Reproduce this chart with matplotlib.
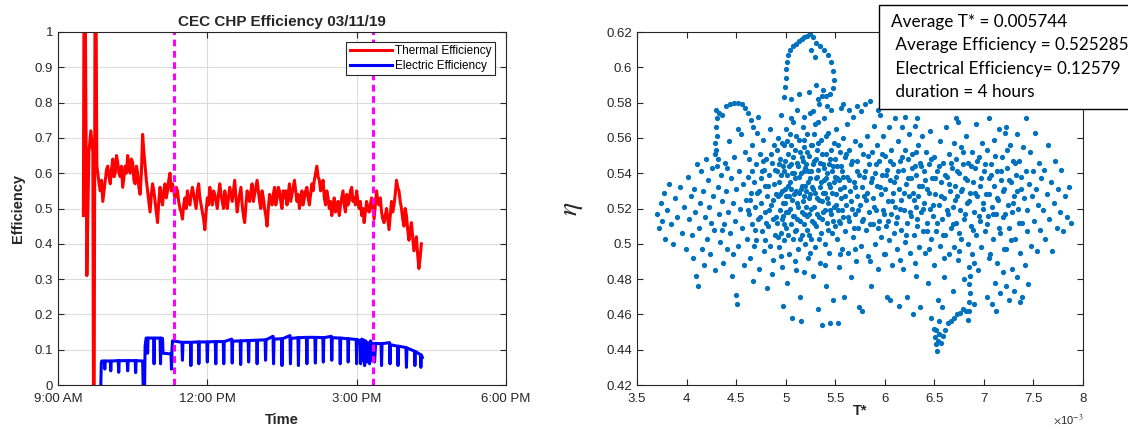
import numpy as np
import matplotlib
matplotlib.use('Agg')
import matplotlib.pyplot as plt
from matplotlib.patches import Rectangle

plt.rcParams['font.family'] = ['Liberation Sans', 'DejaVu Sans']
plt.rcParams['mathtext.fontset'] = 'stix'

#Start-up transient of the thermal efficiency (time in decimal hours).
startup_time = [9.51, 9.53, 9.58, 9.62, 9.66, 9.70, 9.72, 9.75, 9.78]
startup_eff = [0.48, 1.5, 0.31, 0.66, 0.72, 0.66, -0.5, 1.5, 0.62]

#Thermal efficiency, one reading every 1.5 minutes from 9:48.
thermal_t0 = 9.80
thermal_dt = 0.025
thermal_eff = [0.60, 0.57, 0.55, 0.58, 0.52, 0.55, 0.58, 0.61,
               0.62, 0.59, 0.57, 0.61, 0.64, 0.59, 0.60, 0.65, 0.63, 0.60, 0.59, 0.62,
               0.56, 0.59, 0.62, 0.60, 0.65, 0.62, 0.60, 0.64,
               0.63, 0.58, 0.57, 0.62, 0.60, 0.56, 0.54, 0.60, 0.71, 0.66, 0.62, 0.58,
               0.55, 0.52, 0.49, 0.54, 0.57, 0.55, 0.52, 0.49,
               0.46, 0.52, 0.56, 0.53, 0.51, 0.55, 0.57, 0.53, 0.55, 0.58, 0.60, 0.55,
               0.57, 0.55, 0.53, 0.56, 0.55, 0.52, 0.50, 0.49,
               0.47, 0.51, 0.53, 0.50, 0.55, 0.52, 0.51, 0.54, 0.56, 0.54, 0.52, 0.50,
               0.55, 0.57, 0.53, 0.51, 0.49, 0.47, 0.44, 0.49,
               0.53, 0.51, 0.56, 0.53, 0.51, 0.55, 0.54, 0.52, 0.50, 0.54, 0.57, 0.54,
               0.52, 0.50, 0.55, 0.53, 0.50, 0.53, 0.56, 0.54,
               0.52, 0.55, 0.58, 0.53, 0.49, 0.52, 0.54, 0.56, 0.51, 0.48, 0.46, 0.51,
               0.55, 0.53, 0.52, 0.55, 0.57, 0.52, 0.54, 0.56,
               0.58, 0.55, 0.52, 0.50, 0.55, 0.53, 0.50, 0.48, 0.45, 0.50, 0.54, 0.52,
               0.51, 0.54, 0.56, 0.51, 0.53, 0.56, 0.55, 0.52,
               0.50, 0.55, 0.53, 0.55, 0.51, 0.54, 0.57, 0.52, 0.54, 0.56, 0.58, 0.55,
               0.52, 0.54, 0.50, 0.52, 0.55, 0.51, 0.53, 0.55,
               0.56, 0.53, 0.51, 0.54, 0.57, 0.55, 0.58, 0.60, 0.62, 0.59, 0.58, 0.55,
               0.56, 0.58, 0.53, 0.51, 0.55, 0.53, 0.50, 0.52,
               0.48, 0.51, 0.53, 0.49, 0.50, 0.52, 0.48, 0.51, 0.53, 0.55, 0.51, 0.49,
               0.54, 0.51, 0.52, 0.55, 0.56, 0.52, 0.53, 0.51,
               0.55, 0.52, 0.50, 0.52, 0.48, 0.50, 0.46, 0.49, 0.52, 0.50, 0.49, 0.51,
               0.53, 0.50, 0.47, 0.51, 0.55, 0.52, 0.51, 0.53,
               0.49, 0.47, 0.46, 0.48, 0.50, 0.47, 0.44, 0.48, 0.52, 0.49, 0.51, 0.54,
               0.58, 0.56, 0.55, 0.52, 0.50, 0.47, 0.45, 0.50,
               0.48, 0.44, 0.41, 0.44, 0.46, 0.42, 0.38, 0.40, 0.42, 0.37, 0.33, 0.36,
               0.40]

#Electric efficiency (time, value) readings.
electric = [(9.86, 0.0), (9.87, 0.062), (9.88, 0.068), (9.93, 0.068), (9.94, 0.045), (9.95, 0.068),
            (10.05, 0.068), (10.06, 0.040), (10.07, 0.068), (10.21, 0.069), (10.22, 0.036), (10.23, 0.069),
            (10.39, 0.069), (10.40, 0.040), (10.41, 0.069), (10.55, 0.069), (10.56, 0.035), (10.57, 0.069),
            (10.70, 0.068), (10.71, 0.0), (10.74, 0.0), (10.75, 0.11), (10.77, 0.133),
            (10.79, 0.133), (10.80, 0.09), (10.81, 0.133), (10.92, 0.133), (10.93, 0.06), (10.94, 0.133),
            (11.05, 0.133), (11.06, 0.06), (11.07, 0.133), (11.10, 0.132), (11.11, 0.09), (11.27, 0.088),
            (11.28, 0.045), (11.29, 0.10), (11.30, 0.125),
            (11.49, 0.121), (11.50, 0.070), (11.51, 0.121),
            (11.66, 0.121), (11.67, 0.055), (11.68, 0.121),
            (11.82, 0.122), (11.83, 0.060), (11.84, 0.122),
            (11.99, 0.122), (12.00, 0.065), (12.01, 0.122),
            (12.16, 0.123), (12.17, 0.060), (12.18, 0.123),
            (12.32, 0.123), (12.33, 0.060), (12.34, 0.123),
            (12.49, 0.130), (12.50, 0.062), (12.51, 0.124),
            (12.66, 0.125), (12.67, 0.058), (12.68, 0.125),
            (12.82, 0.126), (12.83, 0.065), (12.84, 0.126),
            (12.99, 0.127), (13.00, 0.060), (13.01, 0.127),
            (13.16, 0.128), (13.17, 0.070), (13.18, 0.128),
            (13.32, 0.138), (13.33, 0.060), (13.34, 0.130),
            (13.49, 0.131), (13.50, 0.055), (13.51, 0.131),
            (13.66, 0.140), (13.67, 0.060), (13.68, 0.132),
            (13.82, 0.134), (13.83, 0.055), (13.84, 0.134),
            (13.99, 0.135), (14.00, 0.060), (14.01, 0.135),
            (14.16, 0.135), (14.17, 0.062), (14.18, 0.135),
            (14.32, 0.134), (14.33, 0.065), (14.34, 0.134),
            (14.49, 0.138), (14.50, 0.070), (14.51, 0.134),
            (14.66, 0.133), (14.67, 0.060), (14.68, 0.133),
            (14.82, 0.131), (14.83, 0.065), (14.84, 0.131),
            (14.99, 0.129), (15.00, 0.060), (15.01, 0.129),
            (15.07, 0.125), (15.08, 0.060), (15.10, 0.130), (15.12, 0.070), (15.14, 0.128),
            (15.16, 0.055), (15.18, 0.125), (15.21, 0.065), (15.23, 0.120), (15.26, 0.060),
            (15.28, 0.125), (15.31, 0.070), (15.33, 0.118), (15.36, 0.065), (15.38, 0.118),
            (15.49, 0.117), (15.50, 0.055), (15.51, 0.117),
            (15.66, 0.120), (15.67, 0.060), (15.68, 0.114),
            (15.82, 0.110), (15.83, 0.055), (15.84, 0.110),
            (15.99, 0.106), (16.00, 0.050), (16.01, 0.105),
            (16.16, 0.096), (16.17, 0.055), (16.18, 0.095),
            (16.28, 0.086), (16.29, 0.050), (16.30, 0.085), (16.32, 0.078)]

#Start and end of the 4 hour steady window.
window_marks = [11.33, 15.33]

time_ticks = [9, 12, 15, 18]
time_labels = ['9:00 AM', '12:00 PM', '3:00 PM', '6:00 PM']

#Scatter of (T* x 1e3, eta): outer cloud and loops.
scatter_pts = [
    (3.70, 0.517), (3.72, 0.509), (3.74, 0.523), (3.75, 0.513), (3.77, 0.529), (3.78, 0.503), (3.80, 0.519),
    (3.82, 0.534), (3.84, 0.511), (3.86, 0.500), (3.88, 0.526), (3.90, 0.515), (3.93, 0.532), (3.95, 0.506),
    (3.97, 0.521), (3.99, 0.497),
    (4.01, 0.538), (4.02, 0.514), (4.04, 0.527), (4.05, 0.505), (4.06, 0.492), (4.08, 0.531), (4.09, 0.518),
    (4.10, 0.482), (4.11, 0.545), (4.12, 0.476), (4.13, 0.509), (4.14, 0.523), (4.15, 0.541), (4.16, 0.497),
    (4.17, 0.530), (4.18, 0.488), (4.19, 0.515), (4.20, 0.548), (4.21, 0.503), (4.22, 0.536), (4.23, 0.521),
    (4.24, 0.494), (4.25, 0.512), (4.26, 0.543), (4.27, 0.527), (4.28, 0.508), (4.29, 0.551), (4.29, 0.485),
    (4.30, 0.576), (4.31, 0.571), (4.30, 0.566), (4.31, 0.561), (4.29, 0.557), (4.30, 0.553), (4.32, 0.548),
    (4.31, 0.544),
    (4.33, 0.574), (4.36, 0.573), (4.40, 0.578), (4.44, 0.579), (4.48, 0.580), (4.52, 0.580), (4.56, 0.579),
    (4.59, 0.577), (4.32, 0.532), (4.33, 0.517), (4.34, 0.501), (4.35, 0.539), (4.36, 0.524), (4.37, 0.489),
    (4.38, 0.511), (4.39, 0.546), (4.40, 0.530), (4.41, 0.497), (4.42, 0.518), (4.43, 0.558), (4.44, 0.506),
    (4.45, 0.537), (4.46, 0.482), (4.47, 0.523), (4.48, 0.549), (4.49, 0.513), (4.50, 0.471), (4.50, 0.531),
    (4.51, 0.466), (4.52, 0.499), (4.53, 0.541), (4.54, 0.520), (4.55, 0.562), (4.56, 0.509), (4.57, 0.534),
    (4.58, 0.488), (4.59, 0.552), (4.60, 0.525), (4.52, 0.565), (4.47, 0.494), (4.41, 0.543), (4.36, 0.508),
    (4.62, 0.574), (4.65, 0.570), (4.67, 0.566), (4.61, 0.503), (4.62, 0.538), (4.63, 0.517), (4.63, 0.548),
    (4.64, 0.492), (4.65, 0.529), (4.66, 0.511), (4.66, 0.556), (4.67, 0.479), (4.68, 0.535), (4.69, 0.521),
    (4.70, 0.545), (4.70, 0.502), (4.71, 0.563), (4.72, 0.514), (4.73, 0.530), (4.73, 0.486), (4.74, 0.551),
    (4.75, 0.523), (4.76, 0.507), (4.76, 0.541), (4.77, 0.559), (4.78, 0.496), (4.79, 0.533), (4.79, 0.518),
    (4.80, 0.548), (4.81, 0.475), (4.81, 0.527), (4.82, 0.510), (4.83, 0.539), (4.84, 0.565), (4.84, 0.499),
    (4.85, 0.522), (4.86, 0.546), (4.86, 0.483), (4.87, 0.514), (4.88, 0.534), (4.88, 0.556), (4.89, 0.505),
    (4.90, 0.528), (4.68, 0.499), (4.72, 0.572), (4.78, 0.542), (4.83, 0.519), (4.87, 0.491), (4.64, 0.525),
    (4.75, 0.537), (4.80, 0.512),
    (4.98, 0.583), (4.99, 0.589), (5.00, 0.594), (5.00, 0.599), (5.01, 0.603), (5.02, 0.607), (5.04, 0.610),
    (5.07, 0.612), (5.10, 0.613), (5.13, 0.615), (5.16, 0.616), (5.19, 0.617),
    (4.91, 0.541), (4.91, 0.512), (4.92, 0.527), (4.92, 0.560), (4.93, 0.498), (4.93, 0.535), (4.94, 0.519),
    (4.94, 0.548), (4.95, 0.506), (4.95, 0.573), (4.96, 0.530), (4.96, 0.487), (4.97, 0.544), (4.97, 0.516),
    (4.98, 0.556), (4.98, 0.502), (4.99, 0.531), (4.99, 0.523), (5.00, 0.565), (5.00, 0.509), (5.01, 0.539),
    (5.01, 0.478), (5.02, 0.551), (5.02, 0.518), (5.03, 0.527), (5.03, 0.494), (5.04, 0.562), (5.04, 0.535),
    (5.05, 0.511), (5.05, 0.545), (5.06, 0.458), (5.06, 0.525), (5.07, 0.503), (5.07, 0.569), (5.08, 0.540),
    (5.08, 0.516), (5.09, 0.553), (5.09, 0.490), (5.10, 0.530), (5.10, 0.508), (5.11, 0.546), (5.11, 0.576),
    (5.12, 0.521), (5.12, 0.497), (5.13, 0.538), (5.13, 0.559), (5.14, 0.513), (5.14, 0.470), (5.15, 0.531),
    (5.15, 0.456), (5.16, 0.549), (5.16, 0.505), (5.17, 0.524), (5.17, 0.566), (5.18, 0.541), (5.18, 0.484),
    (5.19, 0.517), (5.19, 0.555), (5.20, 0.533), (5.20, 0.500), (4.97, 0.465), (5.05, 0.582), (5.13, 0.585),
    (5.22, 0.618), (5.25, 0.619), (5.28, 0.617), (5.31, 0.614), (5.35, 0.612), (5.39, 0.610), (5.43, 0.607),
    (5.46, 0.603), (5.48, 0.598), (5.49, 0.593), (5.48, 0.588), (5.45, 0.585), (5.41, 0.584), (5.37, 0.584),
    (5.33, 0.582), (5.26, 0.610), (5.30, 0.606),
    (5.21, 0.545), (5.21, 0.521), (5.22, 0.508), (5.22, 0.562), (5.23, 0.535), (5.23, 0.492), (5.24, 0.550),
    (5.24, 0.517), (5.25, 0.528), (5.25, 0.574), (5.26, 0.503), (5.26, 0.541), (5.27, 0.556), (5.27, 0.513),
    (5.28, 0.531), (5.28, 0.482), (5.29, 0.547), (5.29, 0.521), (5.30, 0.568), (5.30, 0.498), (5.31, 0.537),
    (5.31, 0.510), (5.32, 0.553), (5.32, 0.526), (5.33, 0.463), (5.33, 0.542), (5.34, 0.515), (5.34, 0.579),
    (5.35, 0.532), (5.35, 0.489), (5.36, 0.559), (5.36, 0.506), (5.37, 0.524), (5.37, 0.454), (5.38, 0.545),
    (5.38, 0.518), (5.39, 0.536), (5.39, 0.571), (5.40, 0.500), (5.40, 0.529), (5.41, 0.551), (5.41, 0.476),
    (5.42, 0.512), (5.42, 0.540), (5.43, 0.523), (5.43, 0.563), (5.44, 0.495), (5.44, 0.534), (5.45, 0.548),
    (5.45, 0.455), (5.46, 0.517), (5.46, 0.576), (5.47, 0.529), (5.47, 0.506), (5.48, 0.544), (5.48, 0.468),
    (5.49, 0.521), (5.49, 0.557), (5.50, 0.538), (5.50, 0.510), (5.24, 0.586), (5.31, 0.590), (5.38, 0.587),
    (5.28, 0.575),
    (5.51, 0.528), (5.51, 0.565), (5.52, 0.503), (5.52, 0.544), (5.53, 0.519), (5.53, 0.455), (5.54, 0.536),
    (5.54, 0.487), (5.55, 0.552), (5.55, 0.512), (5.56, 0.577), (5.56, 0.526), (5.57, 0.541), (5.57, 0.497),
    (5.58, 0.515), (5.58, 0.560), (5.59, 0.532), (5.59, 0.470), (5.60, 0.549), (5.60, 0.507), (5.61, 0.522),
    (5.62, 0.568), (5.62, 0.538), (5.63, 0.495), (5.64, 0.513), (5.64, 0.553), (5.65, 0.530), (5.66, 0.481),
    (5.66, 0.545), (5.67, 0.520), (5.68, 0.572), (5.68, 0.504), (5.69, 0.535), (5.70, 0.517), (5.70, 0.558),
    (5.71, 0.490), (5.72, 0.527), (5.72, 0.547), (5.73, 0.509), (5.74, 0.539), (5.74, 0.464), (5.75, 0.522),
    (5.76, 0.575), (5.76, 0.499), (5.77, 0.532), (5.78, 0.551), (5.78, 0.514), (5.79, 0.527), (5.80, 0.579),
    (5.80, 0.541), (5.58, 0.579), (5.64, 0.576), (5.72, 0.578), (5.77, 0.462),
    (5.81, 0.508), (5.82, 0.529), (5.82, 0.561), (5.83, 0.493), (5.84, 0.545), (5.84, 0.518), (5.85, 0.581),
    (5.86, 0.535), (5.86, 0.476), (5.87, 0.552), (5.88, 0.511), (5.88, 0.526), (5.89, 0.567), (5.90, 0.540),
    (5.90, 0.500), (5.91, 0.519), (5.92, 0.556), (5.92, 0.533), (5.93, 0.486), (5.94, 0.547), (5.94, 0.513),
    (5.95, 0.573), (5.96, 0.528), (5.96, 0.504), (5.97, 0.539), (5.98, 0.519), (5.98, 0.561), (5.99, 0.494),
    (6.00, 0.531), (6.00, 0.550), (6.01, 0.510), (6.02, 0.542), (6.02, 0.470), (6.03, 0.524), (6.04, 0.566),
    (6.04, 0.502), (6.05, 0.536), (6.06, 0.517), (6.06, 0.553), (6.07, 0.488), (6.08, 0.529), (6.08, 0.545),
    (6.09, 0.506), (6.10, 0.571), (6.10, 0.521), (5.93, 0.576), (6.05, 0.468),
    (6.11, 0.538), (6.12, 0.497), (6.12, 0.515), (6.13, 0.558), (6.14, 0.531), (6.14, 0.465), (6.15, 0.547),
    (6.16, 0.508), (6.16, 0.525), (6.17, 0.566), (6.18, 0.542), (6.18, 0.486), (6.19, 0.519), (6.20, 0.553),
    (6.20, 0.501), (6.21, 0.534), (6.22, 0.512), (6.22, 0.470), (6.23, 0.548), (6.24, 0.527), (6.24, 0.562),
    (6.25, 0.495), (6.26, 0.537), (6.26, 0.516), (6.27, 0.551), (6.28, 0.460), (6.28, 0.529), (6.29, 0.505),
    (6.30, 0.544), (6.30, 0.567), (6.31, 0.521), (6.32, 0.482), (6.32, 0.539), (6.33, 0.510), (6.34, 0.556),
    (6.34, 0.527), (6.35, 0.498), (6.36, 0.546), (6.36, 0.464), (6.37, 0.518), (6.38, 0.533), (6.38, 0.561),
    (6.39, 0.507), (6.40, 0.541), (6.40, 0.523), (6.20, 0.572), (6.33, 0.571),
    (6.47, 0.458), (6.50, 0.452), (6.51, 0.447), (6.52, 0.443), (6.53, 0.439), (6.54, 0.445), (6.55, 0.449),
    (6.57, 0.444), (6.59, 0.448), (6.61, 0.451), (6.64, 0.455), (6.67, 0.456), (6.52, 0.451), (6.55, 0.456),
    (6.41, 0.495), (6.42, 0.552), (6.43, 0.512), (6.43, 0.531), (6.44, 0.478), (6.45, 0.545), (6.46, 0.520),
    (6.46, 0.564), (6.47, 0.503), (6.48, 0.537), (6.49, 0.516), (6.50, 0.549), (6.50, 0.488), (6.51, 0.528),
    (6.52, 0.507), (6.53, 0.541), (6.54, 0.468), (6.55, 0.522), (6.56, 0.558), (6.56, 0.499), (6.57, 0.535),
    (6.58, 0.514), (6.59, 0.546), (6.60, 0.481), (6.60, 0.526), (6.61, 0.505), (6.62, 0.566), (6.63, 0.538),
    (6.64, 0.517), (6.65, 0.494), (6.65, 0.551), (6.66, 0.530), (6.67, 0.509), (6.68, 0.543), (6.69, 0.473),
    (6.69, 0.521), (6.70, 0.557), (6.70, 0.498), (6.58, 0.464),
    (6.70, 0.458), (6.73, 0.460), (6.76, 0.461), (6.79, 0.463), (6.82, 0.462), (6.84, 0.457), (6.85, 0.462),
    (6.85, 0.467), (6.86, 0.472), (6.85, 0.477), (6.86, 0.482), (6.85, 0.487),
    (6.71, 0.533), (6.72, 0.512), (6.72, 0.548), (6.73, 0.527), (6.74, 0.569), (6.74, 0.491), (6.75, 0.540),
    (6.76, 0.519), (6.77, 0.555), (6.77, 0.503), (6.78, 0.531), (6.79, 0.545), (6.80, 0.514), (6.80, 0.480),
    (6.81, 0.537), (6.82, 0.561), (6.83, 0.523), (6.84, 0.500), (6.84, 0.546), (6.86, 0.529), (6.87, 0.510),
    (6.88, 0.552), (6.88, 0.494), (6.89, 0.535), (6.90, 0.518), (6.91, 0.543), (6.92, 0.568), (6.92, 0.505),
    (6.93, 0.527), (6.94, 0.485), (6.95, 0.549), (6.96, 0.513), (6.96, 0.533), (6.97, 0.498), (6.98, 0.557),
    (6.99, 0.520), (7.00, 0.541), (6.72, 0.571), (6.90, 0.466),
    (7.01, 0.507), (7.02, 0.528), (7.03, 0.553), (7.03, 0.470), (7.04, 0.516), (7.05, 0.571), (7.05, 0.537),
    (7.06, 0.494), (7.07, 0.545), (7.08, 0.521), (7.08, 0.466), (7.09, 0.503), (7.10, 0.533), (7.10, 0.559),
    (7.11, 0.478), (7.12, 0.517), (7.13, 0.541), (7.13, 0.489), (7.14, 0.525), (7.15, 0.565), (7.16, 0.506),
    (7.16, 0.472), (7.17, 0.536), (7.18, 0.549), (7.19, 0.484), (7.19, 0.515), (7.20, 0.531), (7.21, 0.563),
    (7.22, 0.497), (7.22, 0.476), (7.23, 0.543), (7.24, 0.522), (7.25, 0.468), (7.25, 0.509), (7.26, 0.556),
    (7.27, 0.535), (7.28, 0.486), (7.28, 0.518), (7.29, 0.547), (7.30, 0.527), (7.30, 0.473), (7.22, 0.566),
    (7.12, 0.462),
    (7.31, 0.503), (7.32, 0.539), (7.33, 0.562), (7.33, 0.481), (7.34, 0.520), (7.35, 0.547), (7.36, 0.495),
    (7.37, 0.531), (7.38, 0.470), (7.38, 0.512), (7.39, 0.555), (7.40, 0.526), (7.41, 0.488), (7.42, 0.571),
    (7.42, 0.541), (7.43, 0.507), (7.44, 0.519), (7.45, 0.477), (7.46, 0.534), (7.47, 0.552), (7.48, 0.499),
    (7.49, 0.527), (7.50, 0.541), (7.51, 0.513), (7.52, 0.563), (7.53, 0.531), (7.54, 0.496), (7.55, 0.522),
    (7.56, 0.546), (7.57, 0.508), (7.58, 0.537), (7.60, 0.519), (7.36, 0.467),
    (7.61, 0.542), (7.62, 0.503), (7.64, 0.528), (7.65, 0.556), (7.66, 0.514), (7.68, 0.535), (7.69, 0.496),
    (7.71, 0.523), (7.72, 0.547), (7.74, 0.509), (7.75, 0.531), (7.77, 0.518), (7.78, 0.542), (7.80, 0.507),
    (7.82, 0.527), (7.84, 0.515), (7.86, 0.532), (7.88, 0.512),
]

#Extra readings from the dense core of the cloud.
core_pts = [
    (4.62, 0.519), (4.66, 0.541), (4.69, 0.508), (4.71, 0.529), (4.74, 0.515), (4.77, 0.547), (4.79, 0.502),
    (4.82, 0.533), (4.85, 0.551), (4.87, 0.525), (4.89, 0.542), (4.90, 0.515), (4.91, 0.553), (4.92, 0.504),
    (4.93, 0.545), (4.94, 0.528), (4.95, 0.539), (4.96, 0.514), (4.96, 0.557), (4.97, 0.523), (4.98, 0.541),
    (4.98, 0.511), (4.99, 0.547), (5.00, 0.527), (5.00, 0.518), (5.01, 0.558), (5.02, 0.533), (5.02, 0.505),
    (5.03, 0.544), (5.04, 0.520), (5.05, 0.556), (5.05, 0.531), (5.06, 0.540), (5.07, 0.516), (5.07, 0.549),
    (5.08, 0.528), (5.09, 0.507), (5.09, 0.537), (5.10, 0.561), (5.11, 0.523), (5.11, 0.514), (5.12, 0.544),
    (5.13, 0.529), (5.14, 0.552), (5.14, 0.503), (5.15, 0.540), (5.16, 0.518), (5.16, 0.533), (5.17, 0.547),
    (5.18, 0.511), (5.18, 0.559), (5.19, 0.527), (5.20, 0.543), (5.21, 0.530), (5.22, 0.552), (5.22, 0.516),
    (5.23, 0.541), (5.24, 0.526), (5.24, 0.505), (5.25, 0.537), (5.26, 0.556), (5.26, 0.520), (5.27, 0.532),
    (5.28, 0.545), (5.29, 0.512), (5.29, 0.562), (5.30, 0.529), (5.31, 0.548), (5.32, 0.517), (5.32, 0.538),
    (5.33, 0.557), (5.34, 0.525), (5.34, 0.503), (5.35, 0.546), (5.36, 0.535), (5.37, 0.514), (5.37, 0.551),
    (5.38, 0.529), (5.39, 0.543), (5.40, 0.519), (5.41, 0.537), (5.41, 0.561), (5.42, 0.526), (5.43, 0.508),
    (5.44, 0.545), (5.45, 0.532), (5.45, 0.519), (5.46, 0.553), (5.47, 0.541), (5.48, 0.513), (5.49, 0.535),
    (5.50, 0.548), (5.51, 0.522), (5.52, 0.537), (5.53, 0.556), (5.54, 0.513), (5.55, 0.531), (5.56, 0.544),
    (5.57, 0.519), (5.58, 0.538), (5.60, 0.527), (5.61, 0.551), (5.63, 0.515), (5.64, 0.536), (5.66, 0.524),
    (5.67, 0.547), (5.69, 0.509), (5.70, 0.532), (5.72, 0.541), (5.73, 0.519), (5.75, 0.556), (5.77, 0.513),
    (5.79, 0.538), (5.81, 0.525), (5.83, 0.550), (5.85, 0.511), (5.87, 0.537), (5.89, 0.521), (5.91, 0.545),
    (5.93, 0.509), (5.95, 0.532), (5.97, 0.551), (5.99, 0.517), (6.01, 0.539), (6.03, 0.513), (6.05, 0.547),
    (6.07, 0.524), (6.09, 0.535), (6.11, 0.512), (6.13, 0.541), (6.15, 0.520), (6.17, 0.549), (6.19, 0.529),
    (6.21, 0.505), (6.23, 0.537), (6.25, 0.518), (6.27, 0.543), (6.29, 0.525), (6.31, 0.552), (6.33, 0.514),
    (6.35, 0.533), (6.37, 0.544), (6.39, 0.520), (6.41, 0.536), (6.43, 0.507), (6.45, 0.529), (6.47, 0.548),
    (6.49, 0.522), (6.51, 0.537), (6.53, 0.512), (6.55, 0.544), (6.57, 0.527), (6.59, 0.505), (6.61, 0.539),
    (6.63, 0.519), (6.65, 0.534), (6.67, 0.546), (6.69, 0.511), (6.71, 0.525), (6.73, 0.541), (6.75, 0.506),
    (6.77, 0.530), (6.79, 0.552), (6.81, 0.517), (6.83, 0.536), (6.85, 0.524), (6.87, 0.544), (6.89, 0.508),
    (6.91, 0.529), (6.93, 0.547), (6.95, 0.516), (6.97, 0.537), (6.99, 0.523), (7.01, 0.545), (7.03, 0.511),
    (7.05, 0.528), (7.07, 0.539), (7.09, 0.517), (7.11, 0.550), (7.13, 0.526), (7.15, 0.509), (7.17, 0.541),
    (7.19, 0.530), (7.21, 0.517), (7.23, 0.553), (7.25, 0.536), (7.27, 0.502), (7.29, 0.523), (7.31, 0.546),
    (7.33, 0.530), (7.35, 0.512), (7.37, 0.538),
    (5.05, 0.571), (5.18, 0.572), (5.33, 0.569), (5.42, 0.578), (4.95, 0.493), (5.10, 0.485), (5.25, 0.495),
    (5.40, 0.488), (5.55, 0.494), (5.70, 0.497), (5.85, 0.490), (6.00, 0.494), (6.15, 0.491), (6.30, 0.489),
    (6.45, 0.497), (6.60, 0.492), (6.75, 0.496), (6.90, 0.489), (7.05, 0.492), (7.20, 0.497),
]

tstar_ticks = [3.5, 4, 4.5, 5, 5.5, 6, 6.5, 7, 7.5, 8]
eta_ticks = [0.42, 0.44, 0.46, 0.48, 0.5, 0.52, 0.54, 0.56, 0.58, 0.6, 0.62]

summary_lines = ['Average T* = 0.005744',
                 ' Average Efficiency = 0.525285',
                 ' Electrical Efficiency= 0.12579',
                 ' duration = 4 hours']

DARK = '#262626'


def matlab_axes(ax):
    ax.tick_params(direction='in', top=True, right=True, length=4, width=0.8,
                   colors=DARK, labelsize=9.5)
    for s in ax.spines.values():
        s.set_color(DARK)
        s.set_linewidth(0.8)


def main():
    fig = plt.figure(figsize=(11.28, 4.30), dpi=100)

    #Left panel: efficiency against time of day.
    ax1 = fig.add_axes([58/1128, 45/430, 448/1128, 353/430])
    thermal_time = np.concatenate([startup_time,
                                   thermal_t0 + thermal_dt * np.arange(len(thermal_eff))])
    thermal_all = np.concatenate([startup_eff, thermal_eff])
    e_time, e_eff = zip(*electric)

    ax1.plot(thermal_time, thermal_all, color='red', lw=2.2, label='Thermal Efficiency')
    ax1.plot(e_time, e_eff, color='blue', lw=2.2, label='Electric Efficiency')
    for t in window_marks:
        ax1.axvline(t, color='#ff00ff', lw=2.2, dashes=(2.2, 1.5))

    ax1.set_xlim(9, 18)
    ax1.set_ylim(0, 1)
    ax1.set_xticks(time_ticks)
    ax1.set_xticklabels(time_labels)
    ax1.set_yticks(np.round(np.arange(0, 1.01, 0.1), 1))
    ax1.set_yticklabels(['0', '0.1', '0.2', '0.3', '0.4', '0.5', '0.6', '0.7', '0.8', '0.9', '1'])
    ax1.grid(True, color='#dcdcdc', lw=0.8)
    ax1.set_axisbelow(True)
    matlab_axes(ax1)
    ax1.tick_params(axis='x', pad=6)
    ax1.tick_params(axis='y', pad=3.5)

    ax1.set_title('CEC CHP Efficiency 03/11/19', fontsize=11, fontweight='bold', color=DARK, pad=4)
    ax1.set_xlabel('Time', fontsize=10.5, fontweight='bold', color=DARK)
    ax1.xaxis.set_label_coords(0.5, -0.08)
    ax1.set_ylabel('Efficiency', fontsize=10.5, fontweight='bold', color=DARK)
    ax1.yaxis.set_label_coords(-0.074, 0.5)

    leg = ax1.legend(loc='upper right', bbox_to_anchor=(0.975, 0.972), borderaxespad=0,
                     fontsize=8.5, handlelength=3.6, handletextpad=0.2, borderpad=0.3,
                     labelspacing=0.2, fancybox=False, framealpha=1)
    leg.get_frame().set_edgecolor(DARK)
    leg.get_frame().set_linewidth(0.8)

    #Right panel: efficiency against T*.
    ax2 = fig.add_axes([637/1128, 45/430, 446/1128, 353/430])
    t_star, eta = np.array(scatter_pts + core_pts).T
    ax2.plot(t_star, eta, 'o', color='#0072bd', ms=3.8, mew=0)
    ax2.set_xlim(3.5, 8)
    ax2.set_ylim(0.42, 0.62)
    ax2.set_xticks(tstar_ticks)
    ax2.set_xticklabels(['3.5', '4', '4.5', '5', '5.5', '6', '6.5', '7', '7.5', '8'])
    ax2.set_yticks(eta_ticks)
    ax2.set_yticklabels(['0.42', '0.44', '0.46', '0.48', '0.5', '0.52', '0.54', '0.56', '0.58', '0.6', '0.62'])
    matlab_axes(ax2)
    ax2.tick_params(axis='x', pad=6)
    ax2.tick_params(axis='y', pad=3.5)

    ax2.set_xlabel('T*', fontsize=10.5, fontweight='bold', color=DARK)
    ax2.xaxis.set_label_coords(0.5, -0.055)
    ax2.set_ylabel(r'$\eta$', fontsize=20, color=DARK, rotation=90)
    ax2.yaxis.set_label_coords(-0.117, 0.5)
    ax2.text(1.0, -0.099, r'$\times$10$^{-3}$', transform=ax2.transAxes, ha='right', va='center',
             fontsize=8, color=DARK)

    #Summary box in the top right corner.
    fig.patches.append(Rectangle((879/1128, 1 - 109/430), 260/1128, 104/430,
                                 transform=fig.transFigure, facecolor='white',
                                 edgecolor='black', lw=1, zorder=5))
    for i, line in enumerate(summary_lines):
        fig.text(891/1128, 1 - (22 + 23.3*i)/430, line, fontsize=12.3, family=['Lato', 'DejaVu Sans'],
                 va='center', ha='left', color='black', zorder=6)

    fig.savefig('out.png', dpi=100)


if __name__ == "__main__":
    main()
